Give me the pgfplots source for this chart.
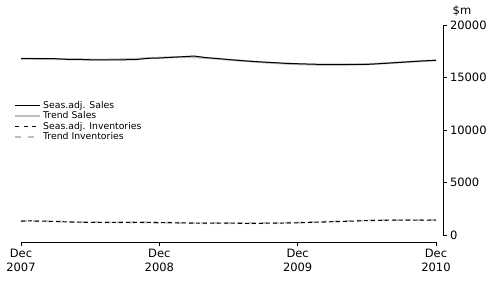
\documentclass[border=0pt]{standalone}
\usepackage{pgfplots}
\pgfplotsset{compat=1.18}
\usepackage{fontspec}
\setmainfont{DejaVu Sans}
\definecolor{trendgrey}{RGB}{190,190,190}
\newcommand{\tickfont}{\fontsize{11.5bp}{14bp}\selectfont}
\newcommand{\legfont}{\fontsize{9.3bp}{11bp}\selectfont}
\begin{document}
\begin{tikzpicture}
\path[use as bounding box] (0,0) rectangle (496bp,284bp);
\begin{axis}[
  at={(21bp,49bp)}, anchor=south west,
  scale only axis, width=415bp, height=209.6bp,
  xmin=0, xmax=36, ymin=0, ymax=20000,
  separate axis lines,
  axis x line*=bottom, axis y line*=right,
  x axis line style={-, line width=0.8bp, yshift=-7bp},
  y axis line style={-, line width=0.8bp, xshift=7bp},
  xtick={0,12,24,36},
  xticklabels={Dec\\2007,Dec\\2008,Dec\\2009,Dec\\2010},
  xticklabel style={align=center, yshift=-7bp, font=\tickfont},
  ytick={0,5000,10000,15000,20000},
  yticklabel style={xshift=7bp, font=\tickfont},
  xtick style={yshift=-7bp, black, line width=0.8bp},
  ytick style={xshift=7bp, black, line width=0.8bp},
  tick align=outside, major tick length=3.5bp,
  scaled y ticks=false,
  /pgf/number format/assume math mode=true,
  /pgf/number format/set thousands separator={},
  clip=false,
  legend cell align=left,
  legend image code/.code={\draw[#1] (0bp,0bp) -- (25bp,0bp);},
  legend style={at={(-0.0169,0.639)}, anchor=north west, draw=none, fill=none,
    font=\legfont, inner sep=0pt, row sep=1.5bp,
    nodes={inner xsep=2bp, inner ysep=0pt, text height=7bp, text depth=2bp}},
]
\addlegendimage{black, line width=1bp}
\addlegendentry{Seas.adj. Sales}
\addlegendimage{trendgrey, line width=2bp}
\addlegendentry{Trend Sales}
\addlegendimage{black, line width=1bp, dash pattern=on 4bp off 4.5bp}
\addlegendentry{Seas.adj. Inventories}
\addlegendimage{trendgrey, line width=2bp, dash pattern=on 6bp off 7bp}
\addlegendentry{Trend Inventories}
% Trend Sales
\addplot[trendgrey, line width=2bp, forget plot] coordinates {
(0,16830)(1,16820)(2,16800)(3,16790)(4,16770)(5,16750)(6,16740)(7,16740)(8,16750)
(9,16780)(10,16820)(11,16870)(12,16920)(13,16960)(14,16980)(15,16960)(16,16900)
(17,16820)(18,16730)(19,16640)(20,16560)(21,16480)(22,16410)(23,16350)(24,16300)
(25,16260)(26,16240)(27,16230)(28,16240)(29,16260)(30,16300)(31,16350)(32,16410)
(33,16480)(34,16550)(35,16610)(36,16660)};
% Trend Inventories
\addplot[trendgrey, line width=2bp, dash pattern=on 6bp off 6bp, forget plot] coordinates {
(0,1350)(1,1340)(2,1320)(3,1290)(4,1260)(5,1240)(6,1225)(7,1215)(8,1210)
(9,1205)(10,1200)(11,1195)(12,1185)(13,1170)(14,1160)(15,1150)(16,1140)
(17,1135)(18,1130)(19,1125)(20,1125)(21,1130)(22,1140)(23,1160)(24,1185)
(25,1215)(26,1250)(27,1285)(28,1320)(29,1355)(30,1385)(31,1405)(32,1420)
(33,1430)(34,1435)(35,1440)(36,1440)};
% Seas.adj. Sales
\addplot[black, line width=1bp, forget plot] coordinates {
(0,16820)(1,16820)(2,16820)(3,16820)(4,16760)(5,16760)(6,16720)(7,16720)(8,16720)
(9,16720)(10,16740)(11,16860)(12,16890)(13,16950)(14,17010)(15,17080)(16,16930)
(17,16840)(18,16740)(19,16650)(20,16570)(21,16500)(22,16440)(23,16380)(24,16340)
(25,16310)(26,16280)(27,16270)(28,16270)(29,16270)(30,16280)(31,16340)(32,16410)
(33,16480)(34,16550)(35,16620)(36,16670)};
% Seas.adj. Inventories
\addplot[black, line width=1bp, dash pattern=on 4bp off 3bp, forget plot] coordinates {
(0,1330)(1,1340)(2,1320)(3,1300)(4,1250)(5,1220)(6,1210)(7,1210)(8,1200)
(9,1210)(10,1200)(11,1200)(12,1190)(13,1170)(14,1150)(15,1140)(16,1130)
(17,1140)(18,1130)(19,1120)(20,1110)(21,1120)(22,1130)(23,1150)(24,1170)
(25,1200)(26,1230)(27,1270)(28,1300)(29,1330)(30,1370)(31,1400)(32,1410)
(33,1420)(34,1420)(35,1430)(36,1430)};
\end{axis}
\node[font=\tickfont, inner sep=0pt] at (462bp,273bp) {\$m};
\end{tikzpicture}
\end{document}
